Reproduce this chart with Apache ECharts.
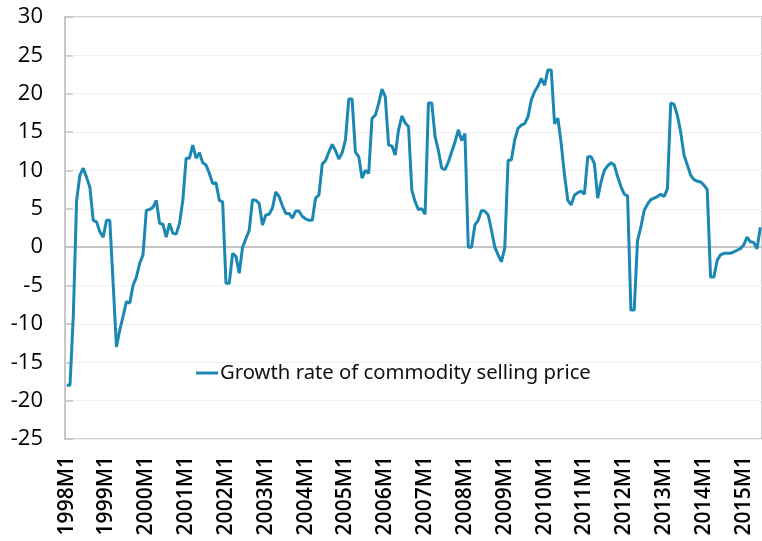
<!DOCTYPE html>
<html>
<head>
<meta charset="utf-8">
<title>Growth rate of commodity selling price</title>
<script src="https://cdn.jsdelivr.net/npm/echarts@6/dist/echarts.min.js"></script>
<style>
  html, body { margin: 0; padding: 0; background: #fff; }
  #chart { width: 762px; height: 541px; }
</style>
</head>
<body>
<div id="chart"></div>
<script>
  // monthly values, one row per year (1998M1 .. 2015M6)
  var y1998 = [-18, -18, -9, 6.1, 9.4, 10.3, 9.1, 7.8, 3.5, 3.3, 2.0, 1.3];
  var y1999 = [3.5, 3.5, -4.7, -13, -10.8, -9.0, -7.1, -7.3, -5.0, -3.9, -2.1, -1.0];
  var y2000 = [4.8, 4.9, 5.2, 6.1, 3.1, 3.0, 1.3, 3.1, 1.8, 1.7, 3.1, 6.1];
  var y2001 = [11.6, 11.6, 13.3, 11.6, 12.3, 11.0, 10.7, 9.6, 8.3, 8.4, 6.1, 5.9];
  var y2002 = [-4.7, -4.7, -0.8, -1.2, -3.4, 0, 1.1, 2.2, 6.2, 6.1, 5.7, 2.9];
  var y2003 = [4.2, 4.3, 5.1, 7.2, 6.6, 5.4, 4.4, 4.4, 3.8, 4.7, 4.7, 4.0];
  var y2004 = [3.7, 3.5, 3.5, 6.4, 6.8, 10.8, 11.3, 12.4, 13.4, 12.6, 11.5, 12.3];
  var y2005 = [14.0, 19.3, 19.3, 12.4, 11.8, 9.0, 10.0, 9.6, 16.8, 17.2, 18.7, 20.6];
  var y2006 = [19.6, 13.3, 13.2, 12.0, 15.3, 17.1, 16.2, 15.7, 7.4, 5.9, 4.9, 5.0];
  var y2007 = [4.3, 18.8, 18.8, 14.4, 12.6, 10.3, 10.1, 11.1, 12.4, 13.7, 15.3, 13.9];
  var y2008 = [14.8, 0, 0, 2.9, 3.5, 4.8, 4.7, 4.2, 2.2, 0, -1.0, -1.9];
  var y2009 = [-0.1, 11.3, 11.4, 14.0, 15.5, 15.9, 16.1, 17.0, 19.2, 20.3, 21.0, 22.0];
  var y2010 = [21.1, 23.1, 23.1, 16.1, 16.8, 13.5, 9.4, 6.1, 5.5, 6.8, 7.1, 7.3];
  var y2011 = [6.9, 11.8, 11.8, 10.9, 6.4, 8.5, 10.0, 10.6, 11.0, 10.7, 9.2, 7.9];
  var y2012 = [6.9, 6.7, -8.2, -8.2, 0.9, 2.6, 4.8, 5.6, 6.2, 6.4, 6.6, 6.9];
  var y2013 = [6.6, 7.6, 18.8, 18.6, 17.2, 15.0, 12.0, 10.7, 9.4, 8.8, 8.6, 8.5];
  var y2014 = [8.1, 7.5, -3.9, -3.9, -1.7, -1.0, -0.8, -0.8, -0.8, -0.6, -0.4, -0.2];
  var y2015 = [0.3, 1.3, 0.7, 0.6, -0.2, 2.6];

  var years = [y1998, y1999, y2000, y2001, y2002, y2003, y2004, y2005, y2006,
               y2007, y2008, y2009, y2010, y2011, y2012, y2013, y2014, y2015];
  var firstYear = 1998;
  var seriesName = 'Growth rate of commodity selling price';

  var months = [];
  var growthRate = [];
  years.forEach(function (row, i) {
    row.forEach(function (v, m) {
      months.push((firstYear + i) + 'M' + (m + 1));
      growthRate.push(v);
    });
  });

  var axisGray = '#c4c4c4';
  var chart = echarts.init(document.getElementById('chart'));
  chart.setOption({
    animation: false,
    textStyle: { fontFamily: 'Noto Sans' },
    grid: {
      left: 65, right: -2, top: 17, bottom: 102,
      show: true, borderColor: axisGray, borderWidth: 1.5
    },
    legend: {
      data: [seriesName],
      left: 196, top: 363,
      padding: 0,
      icon: 'rect', itemWidth: 22, itemHeight: 3,
      textStyle: { fontSize: 20.3, color: '#111', padding: [0, 0, 0, -3] }
    },
    xAxis: [
      {
        // bottom axis: only the rotated labels
        type: 'category',
        data: months,
        position: 'bottom',
        boundaryGap: true,
        axisLine: { onZero: false, show: false },
        axisTick: { show: false },
        axisLabel: {
          interval: 11, rotate: 90, margin: 17,
          fontSize: 21, color: '#000', fontWeight: 600,
          fontFamily: 'Open Sans'
        },
        splitLine: { show: false }
      },
      {
        // zero line with yearly ticks pointing up
        type: 'category',
        data: months,
        position: 'top',
        boundaryGap: true,
        axisLine: { onZero: true, lineStyle: { color: axisGray, width: 2 } },
        axisTick: { interval: 11, alignWithLabel: true, length: 8, lineStyle: { color: axisGray, width: 1.5 } },
        axisLabel: { show: false },
        splitLine: { show: false }
      }
    ],
    yAxis: {
      type: 'value',
      min: -25, max: 30, interval: 5,
      axisLine: { show: true, lineStyle: { color: axisGray, width: 1.5 } },
      axisTick: { show: true, inside: true, length: 8, lineStyle: { color: axisGray, width: 1.5 } },
      axisLabel: { fontSize: 22, color: '#000', margin: 22, fontFamily: 'Open Sans' },
      splitLine: { show: true, lineStyle: { color: '#efefef', width: 1 } }
    },
    series: [{
      name: seriesName,
      type: 'line',
      xAxisIndex: 0,
      data: growthRate,
      symbol: 'none',
      lineStyle: { color: '#1a88b3', width: 3 },
      itemStyle: { color: '#1a88b3' }
    }]
  });
</script>
</body>
</html>
